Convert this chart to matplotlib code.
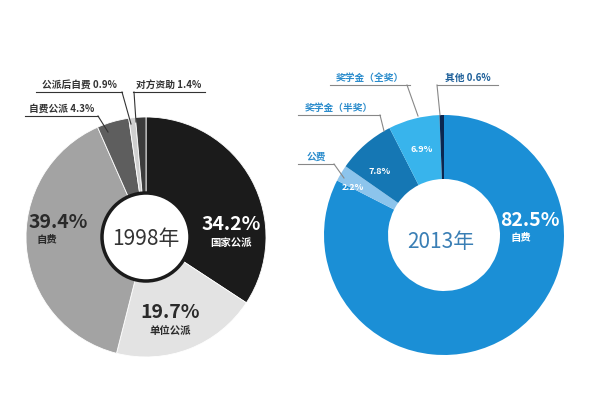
import matplotlib.pyplot as plt

plt.rcParams['font.family'] = ['Noto Sans CJK SC', 'DejaVu Sans']

# 1998 data (clockwise from top)
labels_1998 = ["国家公派", "单位公派", "自费", "自费公派", "公派后自费", "对方资助"]
values_1998 = [34.2, 19.7, 39.4, 4.3, 0.9, 1.4]
colors_1998 = ["#1b1b1b", "#e3e3e3", "#a3a3a3", "#5e5e5e", "#cfcfcf", "#3c3c3c"]

# 2013 data (clockwise from top)
labels_2013 = ["自费", "公费", "奖学金（半奖）", "奖学金（全奖）", "其他"]
values_2013 = [82.5, 2.2, 7.8, 6.9, 0.6]
colors_2013 = ["#1b8fd6", "#8cc4ec", "#1577b4", "#38b4ec", "#0b2650"]

H = 400
def Y(y):
    return H - y

fig = plt.figure(figsize=(6, 4), dpi=100)
ax = fig.add_axes([0, 0, 1, 1])

# left donut
c1 = (146, Y(237))
ax.pie(values_1998, colors=colors_1998, startangle=90, counterclock=False,
       center=c1, radius=120, wedgeprops=dict(width=120 - 44, edgecolor='white', linewidth=0.6),
       frame=True)
ax.add_patch(plt.Circle(c1, 44, facecolor='white', edgecolor='#1b1b1b', linewidth=2.5, zorder=3))
ax.text(c1[0], c1[1] - 2, "1998年", ha='center', va='center', fontsize=15, color='#333333', zorder=4)

# right donut
c2 = (444, Y(235))
ax.pie(values_2013, colors=colors_2013, startangle=90, counterclock=False,
       center=c2, radius=120, wedgeprops=dict(width=120 - 56, edgecolor='none'),
       frame=True)
ax.text(c2[0] - 3, c2[1] - 7, "2013年", ha='center', va='center', fontsize=15, color='#3a7fb5', zorder=4)

ax.set_xlim(0, 600)
ax.set_ylim(0, 400)
ax.set_aspect('equal')
ax.axis('off')

big = dict(fontsize=14, fontweight='bold', ha='center', va='center', fontstretch='condensed')
small = dict(fontsize=7.5, fontweight='bold', ha='center', va='center')

# 1998 slice labels
ax.text(231, Y(225), f"{values_1998[0]}%", color='white', **big)
ax.text(231, Y(243), labels_1998[0], color='white', **small)
ax.text(170, Y(313), f"{values_1998[1]}%", color='#2a2a2a', **big)
ax.text(170, Y(331), labels_1998[1], color='#2a2a2a', **small)
ax.text(58, Y(223), f"{values_1998[2]}%", color='#2a2a2a', **big)
ax.text(37, Y(240), labels_1998[2], color='#2a2a2a', fontsize=7.5, fontweight='bold', ha='left', va='center')

# callouts with underline and leader line
def callout(x0, x1, y, text, line_pts, col='#333333', tcol='#333333'):
    ax.text((x0 + x1) / 2, Y(y - 7), text, fontsize=7, fontweight='bold', ha='center', va='center', color=tcol)
    ax.plot([x0, x1], [Y(y), Y(y)], color=col, lw=0.8)
    xs = [p[0] for p in line_pts]
    ys = [Y(p[1]) for p in line_pts]
    ax.plot(xs, ys, color=col, lw=0.8)

callout(25, 98, 116, f"{labels_1998[3]} {values_1998[3]}%", [(98, 116), (108, 132)])
callout(36, 122, 92, f"{labels_1998[4]} {values_1998[4]}%", [(122, 92), (131, 124)])
callout(133, 205, 92, f"{labels_1998[5]} {values_1998[5]}%", [(134, 92), (136, 122)])

# 2013 slice labels
ax.text(530, Y(220), f"{values_2013[0]}%", color='white', **big)
ax.text(521, Y(238), labels_2013[0], color='white', fontsize=7.5, fontweight='bold', ha='center', va='center')
ax.text(353, Y(187), f"{values_2013[1]}%", color='white', fontsize=6.5, fontweight='bold', ha='center', va='center')
ax.text(380, Y(172), f"{values_2013[2]}%", color='white', fontsize=6.5, fontweight='bold', ha='center', va='center')
ax.text(422, Y(150), f"{values_2013[3]}%", color='white', fontsize=6.5, fontweight='bold', ha='center', va='center')

blue = '#2b8ccc'
callout(330, 410, 85, labels_2013[3], [(407, 85), (418, 116)], col='#888888', tcol=blue)
callout(437, 498, 85, f"{labels_2013[4]} {values_2013[4]}%", [(437, 85), (440, 115)], col='#888888', tcol='#1d5f99')
callout(298, 380, 115, labels_2013[2], [(380, 115), (384, 131)], col='#888888', tcol=blue)
callout(298, 334, 164, labels_2013[1], [(334, 164), (344, 178)], col='#888888', tcol=blue)

fig.savefig("out.png", dpi=100, facecolor='white')
